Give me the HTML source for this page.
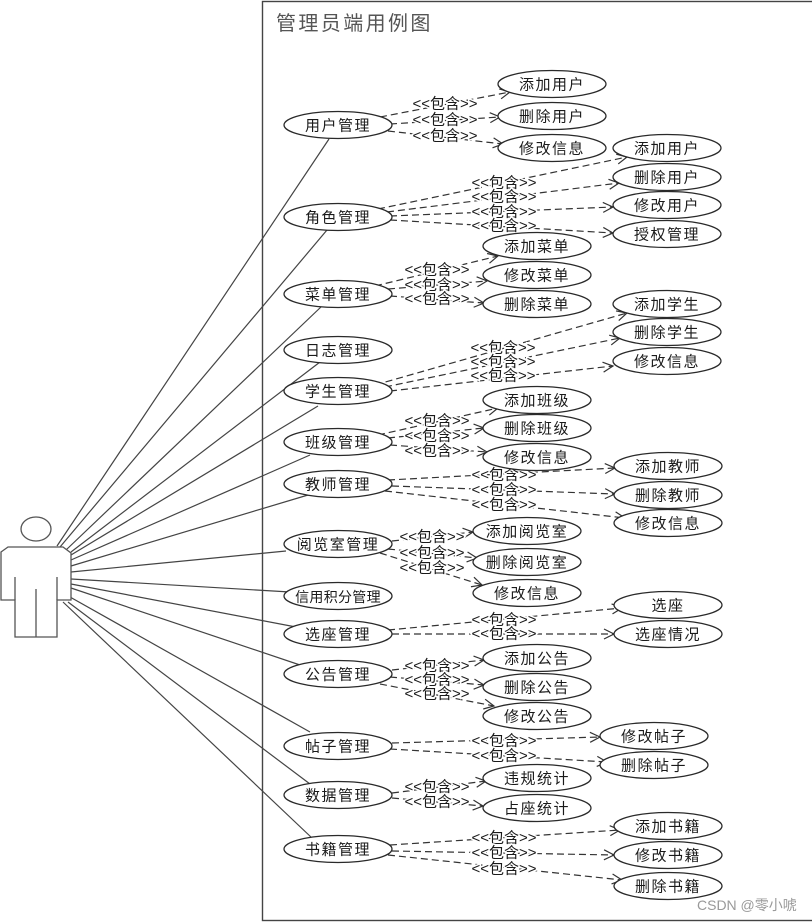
<!DOCTYPE html>
<html><head><meta charset="utf-8"><title>管理员端用例图</title>
<style>
html,body{margin:0;padding:0;background:#fff;width:812px;height:923px;overflow:hidden}
svg{display:block}
text{font-family:"Liberation Sans","Noto Sans CJK SC",sans-serif}
.n text{font-size:15px;letter-spacing:1.5px;fill:#1a1a1a;text-anchor:middle;dominant-baseline:central}
.l text{font-size:15px;fill:#1a1a1a;text-anchor:middle;dominant-baseline:central;stroke:#fff;stroke-width:3px;paint-order:stroke}
.a line{stroke:#444;stroke-width:1.2}
.d line{stroke:#333;stroke-width:1.2;stroke-dasharray:7 4;marker-end:url(#ar)}
.e ellipse{fill:#fff;stroke:#2a2a2a;stroke-width:1.3}
</style></head><body>
<svg width="812" height="923" viewBox="0 0 812 923" xmlns="http://www.w3.org/2000/svg">
<defs><marker id="ar" markerUnits="userSpaceOnUse" markerWidth="14" markerHeight="14" refX="11" refY="6" orient="auto"><path d="M1 1 L11 6 L1 11" fill="none" stroke="#333" stroke-width="1.2"/></marker></defs>
<rect x="262.5" y="1.5" width="600" height="919" fill="#fff" stroke="#444" stroke-width="1.4"/>
<text x="276" y="30" font-size="20" letter-spacing="2.4" fill="#555">管理员端用例图</text>

<g class="a">
<line x1="57" y1="546" x2="329" y2="139"/>
<line x1="60" y1="547" x2="327" y2="230"/>
<line x1="66" y1="550" x2="322" y2="306"/>
<line x1="71" y1="552" x2="320" y2="362"/>
<line x1="71" y1="555" x2="318" y2="406"/>
<line x1="71" y1="560" x2="310" y2="455"/>
<line x1="71" y1="566" x2="308" y2="495"/>
<line x1="71" y1="572" x2="286" y2="551"/>
<line x1="71" y1="579" x2="290" y2="592"/>
<line x1="71" y1="584" x2="296" y2="627"/>
<line x1="71" y1="588" x2="300" y2="665"/>
<line x1="70" y1="597" x2="310" y2="732"/>
<line x1="68" y1="602" x2="310" y2="784"/>
<line x1="63" y1="602" x2="312" y2="838"/>
</g>

<g fill="#fff" stroke="#555" stroke-width="1.3">
<ellipse cx="36" cy="529" rx="15" ry="12"/>
<path d="M1 552 L8 547 L63 547 L71 553 L71 600 L57 600 L57 637 L15 637 L15 600 L1 600 Z"/>
<path d="M15 577 V600 M57 577 V600 M36 589 V637" fill="none"/>
</g>

<g class="d">
<line x1="380" y1="117" x2="510" y2="92"/>
<line x1="390" y1="124" x2="500" y2="117"/>
<line x1="388" y1="131" x2="503" y2="144"/>
<line x1="378" y1="209" x2="627" y2="157"/>
<line x1="387" y1="212" x2="619" y2="183"/>
<line x1="390" y1="216" x2="613" y2="207"/>
<line x1="390" y1="220" x2="613" y2="233"/>
<line x1="375" y1="286" x2="498" y2="256"/>
<line x1="388" y1="289" x2="487" y2="281"/>
<line x1="390" y1="296" x2="484" y2="303"/>
<line x1="375" y1="385" x2="627" y2="313"/>
<line x1="385" y1="387" x2="620" y2="338"/>
<line x1="390" y1="391" x2="613" y2="366"/>
<line x1="378" y1="435" x2="498" y2="408"/>
<line x1="388" y1="438" x2="484" y2="428"/>
<line x1="390" y1="445" x2="487" y2="452"/>
<line x1="388" y1="480" x2="615" y2="468"/>
<line x1="392" y1="486" x2="615" y2="494"/>
<line x1="385" y1="491" x2="625" y2="518"/>
<line x1="392" y1="541" x2="473" y2="532"/>
<line x1="388" y1="549" x2="477" y2="558"/>
<line x1="380" y1="553" x2="482" y2="585"/>
<line x1="388" y1="630" x2="622" y2="608"/>
<line x1="392" y1="634" x2="614" y2="634"/>
<line x1="392" y1="670" x2="484" y2="660"/>
<line x1="390" y1="677" x2="484" y2="685"/>
<line x1="380" y1="684" x2="494" y2="706"/>
<line x1="392" y1="743" x2="600" y2="737"/>
<line x1="390" y1="749" x2="607" y2="762"/>
<line x1="392" y1="793" x2="486" y2="781"/>
<line x1="392" y1="798" x2="483" y2="806"/>
<line x1="390" y1="845" x2="620" y2="830"/>
<line x1="392" y1="851" x2="614" y2="855"/>
<line x1="388" y1="855" x2="622" y2="880"/>
</g>

<g class="l">
<text x="445" y="104">&lt;&lt;包含&gt;&gt;</text><text x="445" y="120">&lt;&lt;包含&gt;&gt;</text><text x="445" y="136">&lt;&lt;包含&gt;&gt;</text>
<text x="504" y="183">&lt;&lt;包含&gt;&gt;</text><text x="504" y="197">&lt;&lt;包含&gt;&gt;</text><text x="504" y="212">&lt;&lt;包含&gt;&gt;</text><text x="504" y="226">&lt;&lt;包含&gt;&gt;</text>
<text x="437" y="270">&lt;&lt;包含&gt;&gt;</text><text x="437" y="285">&lt;&lt;包含&gt;&gt;</text><text x="437" y="299">&lt;&lt;包含&gt;&gt;</text>
<text x="503" y="348">&lt;&lt;包含&gt;&gt;</text><text x="503" y="362">&lt;&lt;包含&gt;&gt;</text><text x="503" y="376">&lt;&lt;包含&gt;&gt;</text>
<text x="437" y="421">&lt;&lt;包含&gt;&gt;</text><text x="437" y="436">&lt;&lt;包含&gt;&gt;</text><text x="437" y="451">&lt;&lt;包含&gt;&gt;</text>
<text x="504" y="475">&lt;&lt;包含&gt;&gt;</text><text x="504" y="490">&lt;&lt;包含&gt;&gt;</text><text x="504" y="505">&lt;&lt;包含&gt;&gt;</text>
<text x="432" y="537">&lt;&lt;包含&gt;&gt;</text><text x="432" y="553">&lt;&lt;包含&gt;&gt;</text><text x="432" y="568">&lt;&lt;包含&gt;&gt;</text>
<text x="504" y="620">&lt;&lt;包含&gt;&gt;</text><text x="504" y="634">&lt;&lt;包含&gt;&gt;</text>
<text x="437" y="666">&lt;&lt;包含&gt;&gt;</text><text x="437" y="680">&lt;&lt;包含&gt;&gt;</text><text x="437" y="694">&lt;&lt;包含&gt;&gt;</text>
<text x="504" y="741">&lt;&lt;包含&gt;&gt;</text><text x="504" y="756">&lt;&lt;包含&gt;&gt;</text>
<text x="437" y="787">&lt;&lt;包含&gt;&gt;</text><text x="437" y="802">&lt;&lt;包含&gt;&gt;</text>
<text x="504" y="838">&lt;&lt;包含&gt;&gt;</text><text x="504" y="853">&lt;&lt;包含&gt;&gt;</text><text x="504" y="869">&lt;&lt;包含&gt;&gt;</text>
</g>

<g class="e">
<ellipse cx="338" cy="125" rx="54" ry="13.5"/><ellipse cx="338" cy="217" rx="54" ry="13.5"/><ellipse cx="338" cy="294" rx="54" ry="13.5"/><ellipse cx="338" cy="350" rx="54" ry="13.5"/><ellipse cx="338" cy="391" rx="54" ry="13.5"/><ellipse cx="338" cy="442" rx="54" ry="13.5"/><ellipse cx="338" cy="484" rx="54" ry="13.5"/><ellipse cx="338" cy="544" rx="54" ry="13.5"/><ellipse cx="338" cy="596" rx="54" ry="13.5"/><ellipse cx="338" cy="634" rx="54" ry="13.5"/><ellipse cx="338" cy="674" rx="54" ry="13.5"/><ellipse cx="338" cy="746" rx="54" ry="13.5"/><ellipse cx="338" cy="795" rx="54" ry="13.5"/><ellipse cx="338" cy="849" rx="54" ry="13.5"/>
<ellipse cx="552" cy="84" rx="54" ry="13.5"/><ellipse cx="552" cy="116" rx="54" ry="13.5"/><ellipse cx="552" cy="148" rx="54" ry="13.5"/>
<ellipse cx="667" cy="148" rx="54" ry="13.5"/><ellipse cx="667" cy="177" rx="54" ry="13.5"/><ellipse cx="667" cy="205" rx="54" ry="13.5"/><ellipse cx="667" cy="234" rx="54" ry="13.5"/>
<ellipse cx="537" cy="246" rx="54" ry="13.5"/><ellipse cx="537" cy="275" rx="54" ry="13.5"/><ellipse cx="537" cy="304" rx="54" ry="13.5"/>
<ellipse cx="667" cy="304" rx="54" ry="13.5"/><ellipse cx="667" cy="332" rx="54" ry="13.5"/><ellipse cx="667" cy="361" rx="54" ry="13.5"/>
<ellipse cx="537" cy="400" rx="54" ry="13.5"/><ellipse cx="537" cy="428" rx="54" ry="13.5"/><ellipse cx="537" cy="457" rx="54" ry="13.5"/>
<ellipse cx="668" cy="466" rx="54" ry="13.5"/><ellipse cx="668" cy="495" rx="54" ry="13.5"/><ellipse cx="668" cy="523" rx="54" ry="13.5"/>
<ellipse cx="527" cy="531" rx="54" ry="13.5"/><ellipse cx="527" cy="562" rx="54" ry="13.5"/><ellipse cx="527" cy="593" rx="54" ry="13.5"/>
<ellipse cx="668" cy="605" rx="54" ry="13.5"/><ellipse cx="668" cy="634" rx="54" ry="13.5"/>
<ellipse cx="537" cy="658" rx="54" ry="13.5"/><ellipse cx="537" cy="687" rx="54" ry="13.5"/><ellipse cx="537" cy="716" rx="54" ry="13.5"/>
<ellipse cx="654" cy="736" rx="54" ry="13.5"/><ellipse cx="654" cy="765" rx="54" ry="13.5"/>
<ellipse cx="537" cy="778" rx="54" ry="13.5"/><ellipse cx="537" cy="808" rx="54" ry="13.5"/>
<ellipse cx="668" cy="826" rx="54" ry="13.5"/><ellipse cx="668" cy="855" rx="54" ry="13.5"/><ellipse cx="668" cy="886" rx="54" ry="13.5"/>
</g>

<g class="n" transform="translate(0,1)">
<text x="338" y="125">用户管理</text><text x="338" y="217">角色管理</text><text x="338" y="294">菜单管理</text><text x="338" y="350">日志管理</text><text x="338" y="391">学生管理</text><text x="338" y="442">班级管理</text><text x="338" y="484">教师管理</text><text x="338" y="544">阅览室管理</text><text x="338" y="596" style="font-size:14px;letter-spacing:.3px">信用积分管理</text><text x="338" y="634">选座管理</text><text x="338" y="674">公告管理</text><text x="338" y="746">帖子管理</text><text x="338" y="795">数据管理</text><text x="338" y="849">书籍管理</text>
<text x="552" y="84">添加用户</text><text x="552" y="116">删除用户</text><text x="552" y="148">修改信息</text>
<text x="667" y="148">添加用户</text><text x="667" y="177">删除用户</text><text x="667" y="205">修改用户</text><text x="667" y="234">授权管理</text>
<text x="537" y="246">添加菜单</text><text x="537" y="275">修改菜单</text><text x="537" y="304">删除菜单</text>
<text x="667" y="304">添加学生</text><text x="667" y="332">删除学生</text><text x="667" y="361">修改信息</text>
<text x="537" y="400">添加班级</text><text x="537" y="428">删除班级</text><text x="537" y="457">修改信息</text>
<text x="668" y="466">添加教师</text><text x="668" y="495">删除教师</text><text x="668" y="523">修改信息</text>
<text x="527" y="531">添加阅览室</text><text x="527" y="562">删除阅览室</text><text x="527" y="593">修改信息</text>
<text x="668" y="605">选座</text><text x="668" y="634">选座情况</text>
<text x="537" y="658">添加公告</text><text x="537" y="687">删除公告</text><text x="537" y="716">修改公告</text>
<text x="654" y="736">修改帖子</text><text x="654" y="765">删除帖子</text>
<text x="537" y="778">违规统计</text><text x="537" y="808">占座统计</text>
<text x="668" y="826">添加书籍</text><text x="668" y="855">修改书籍</text><text x="668" y="886">删除书籍</text>
</g>
<text x="697" y="910" font-size="14" fill="#999">CSDN @零小唬</text>
</svg>
</body></html>
